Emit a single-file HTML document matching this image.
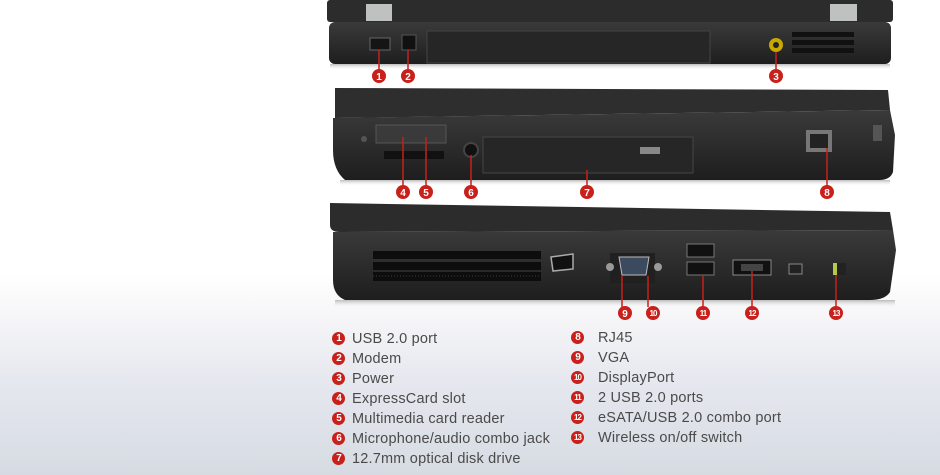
<!DOCTYPE html>
<html><head><meta charset="utf-8"><style>
html,body{margin:0;padding:0;}
body{width:940px;height:475px;overflow:hidden;position:relative;
background:linear-gradient(to bottom,#fff 0px,#fff 275px,#f3f3f6 330px,#e6e8ef 380px,#d6dbe2 475px);
font-family:"Liberation Sans",sans-serif;}
svg{position:absolute;left:0;top:0;}
.lg{position:absolute;font-size:14.5px;letter-spacing:0.2px;color:#4a4a4a;line-height:20px;}
.lg div{position:relative;height:20px;white-space:nowrap;}
.lg b{position:absolute;top:3px;width:13px;height:13px;border-radius:50%;background:#c8201b;color:#fff;font-size:10px;line-height:13px;text-align:center;font-weight:bold;letter-spacing:-1px;}
</style></head><body>
<svg width="940" height="475" viewBox="0 0 940 475">
<defs>
<linearGradient id="bd" x1="0" y1="0" x2="0" y2="1"><stop offset="0" stop-color="#3a3a3a"/><stop offset="1" stop-color="#1e1e1e"/></linearGradient>
<linearGradient id="sh" x1="0" y1="0" x2="0" y2="1"><stop offset="0" stop-color="#bbb"/><stop offset="1" stop-color="#fff" stop-opacity="0"/></linearGradient>
</defs>
<!-- Laptop 1 (rear) -->
<rect x="327" y="0" width="566" height="22" rx="3" fill="#2c2c2c"/>
<rect x="366" y="4" width="26" height="17" fill="#bfc0c0"/>
<rect x="830" y="4" width="27" height="17" fill="#bfc0c0"/>
<rect x="329" y="22" width="562" height="42" rx="6" fill="url(#bd)"/>
<rect x="330" y="64" width="560" height="6" fill="url(#sh)"/>
<rect x="427" y="31" width="283" height="32" fill="#262626" stroke="#444"/>
<rect x="370" y="38" width="20" height="12" fill="#151515" stroke="#666"/>
<rect x="402" y="35" width="14" height="15" fill="#111" stroke="#555"/>
<circle cx="776" cy="45" r="7" fill="#c9a800"/><circle cx="776" cy="45" r="3" fill="#222"/>
<g fill="#111"><rect x="792" y="32" width="62" height="5"/><rect x="792" y="40" width="62" height="5"/><rect x="792" y="48" width="62" height="5"/></g>
<g stroke="#c8201b" stroke-width="1.5"><line x1="379" y1="50" x2="379" y2="70"/><line x1="408" y1="50" x2="408" y2="70"/><line x1="776" y1="52" x2="776" y2="70"/></g>
<!-- Laptop 2 (left side) -->
<path d="M335 88 L888 90 L890 110 L335 118 Z" fill="#2e2e2e"/>
<path d="M333 118 L890 110 L895 135 L893 172 Q890 180 880 180 L345 180 Q333 170 333 150 Z" fill="url(#bd)"/>
<rect x="340" y="180" width="550" height="6" fill="url(#sh)"/>
<rect x="376" y="125" width="70" height="18" fill="#3a3a3a" stroke="#555"/>
<rect x="384" y="151" width="60" height="8" fill="#111"/>
<circle cx="471" cy="150" r="7" fill="#111" stroke="#444" stroke-width="2"/>
<rect x="483" y="137" width="210" height="36" fill="#262626" stroke="#454545"/>
<rect x="640" y="147" width="20" height="7" fill="#888"/>
<rect x="806" y="130" width="26" height="22" fill="#777"/><rect x="810" y="134" width="18" height="14" fill="#222"/>
<rect x="873" y="125" width="9" height="16" fill="#555"/>
<circle cx="364" cy="139" r="3" fill="#555"/>
<g stroke="#c8201b" stroke-width="1.5"><line x1="403" y1="137" x2="403" y2="186"/><line x1="426" y1="137" x2="426" y2="186"/><line x1="471" y1="155" x2="471" y2="186"/><line x1="587" y1="170" x2="587" y2="186"/><line x1="827" y1="148" x2="827" y2="186"/></g>
<!-- Laptop 3 (right side) -->
<path d="M330 203 L890 212 L893 230 L340 232 Q330 232 330 225 Z" fill="#2c2c2c"/>
<path d="M333 232 L893 230 L896 250 L890 292 Q885 300 870 300 L345 300 Q333 295 333 280 Z" fill="url(#bd)"/>
<rect x="335" y="300" width="560" height="8" fill="url(#sh)"/>
<g fill="#0d0d0d"><rect x="373" y="251" width="168" height="8"/><rect x="373" y="262" width="168" height="8"/><rect x="373" y="272" width="168" height="9"/></g>
<g stroke="#3a3a3a" stroke-width="1"><line x1="373" y1="276" x2="541" y2="276" stroke-dasharray="1 2"/></g>
<path d="M551 257 L573 254 L573 269 L553 271 Z" fill="#111" stroke="#aaa" stroke-width="1.5"/>
<rect x="610" y="253" width="45" height="30" fill="#202020"/>
<path d="M619 257 L649 257 L646 275 L622 275 Z" fill="#3c4a60" stroke="#bbb"/>
<circle cx="610" cy="267" r="4" fill="#999"/><circle cx="658" cy="267" r="4" fill="#999"/>
<rect x="687" y="244" width="27" height="13" fill="#111" stroke="#777"/>
<rect x="687" y="262" width="27" height="13" fill="#111" stroke="#777"/>
<rect x="733" y="260" width="38" height="15" fill="#111" stroke="#888"/>
<rect x="741" y="264" width="22" height="7" fill="#444"/>
<rect x="789" y="264" width="13" height="10" fill="#222" stroke="#888"/>
<rect x="833" y="263" width="9" height="12" fill="#b5c84a"/><rect x="837" y="263" width="9" height="12" fill="#222"/>
<g stroke="#c8201b" stroke-width="1.5"><line x1="622" y1="276" x2="622" y2="307"/><line x1="648" y1="276" x2="648" y2="307"/><line x1="703" y1="276" x2="703" y2="307"/><line x1="752" y1="271" x2="752" y2="307"/><line x1="836" y1="275" x2="836" y2="307"/></g>
<!-- badges -->
<g font-family="Liberation Sans,sans-serif" font-size="10" font-weight="bold" fill="#fff" text-anchor="middle">
<g fill="#c8201b"><circle cx="379" cy="76" r="7"/><circle cx="408" cy="76" r="7"/><circle cx="776" cy="76" r="7"/>
<circle cx="403" cy="192" r="7"/><circle cx="426" cy="192" r="7"/><circle cx="471" cy="192" r="7"/><circle cx="587" cy="192" r="7"/><circle cx="827" cy="192" r="7"/>
<circle cx="625" cy="313" r="7"/><circle cx="653" cy="313" r="7"/><circle cx="703" cy="313" r="7"/><circle cx="752" cy="313" r="7"/><circle cx="836" cy="313" r="7"/></g>
<text x="379" y="80">1</text><text x="408" y="80">2</text><text x="776" y="80">3</text>
<text x="403" y="196">4</text><text x="426" y="196">5</text><text x="471" y="196">6</text><text x="587" y="196">7</text><text x="827" y="196">8</text>
<text x="625" y="317">9</text><g font-size="8" letter-spacing="-1"><text x="653" y="316">10</text><text x="703" y="316">11</text><text x="752" y="316">12</text><text x="836" y="316">13</text></g>
</g>
</svg>
<div class="lg" style="left:332px;top:329px;">
<div style="padding-left:20px"><b style="left:0">1</b>USB 2.0 port</div>
<div style="padding-left:20px"><b style="left:0">2</b>Modem</div>
<div style="padding-left:20px"><b style="left:0">3</b>Power</div>
<div style="padding-left:20px"><b style="left:0">4</b>ExpressCard slot</div>
<div style="padding-left:20px"><b style="left:0">5</b>Multimedia card reader</div>
<div style="padding-left:20px"><b style="left:0">6</b>Microphone/audio combo jack</div>
<div style="padding-left:20px"><b style="left:0">7</b>12.7mm optical disk drive</div>
</div>
<div class="lg" style="left:571px;top:328px;">
<div style="padding-left:27px"><b style="left:0">8</b>RJ45</div>
<div style="padding-left:27px"><b style="left:0">9</b>VGA</div>
<div style="padding-left:27px"><b style="left:0;font-size:8px">10</b>DisplayPort</div>
<div style="padding-left:27px"><b style="left:0;font-size:8px">11</b>2 USB 2.0 ports</div>
<div style="padding-left:27px"><b style="left:0;font-size:8px">12</b>eSATA/USB 2.0 combo port</div>
<div style="padding-left:27px"><b style="left:0;font-size:8px">13</b>Wireless on/off switch</div>
</div>
</body></html>
